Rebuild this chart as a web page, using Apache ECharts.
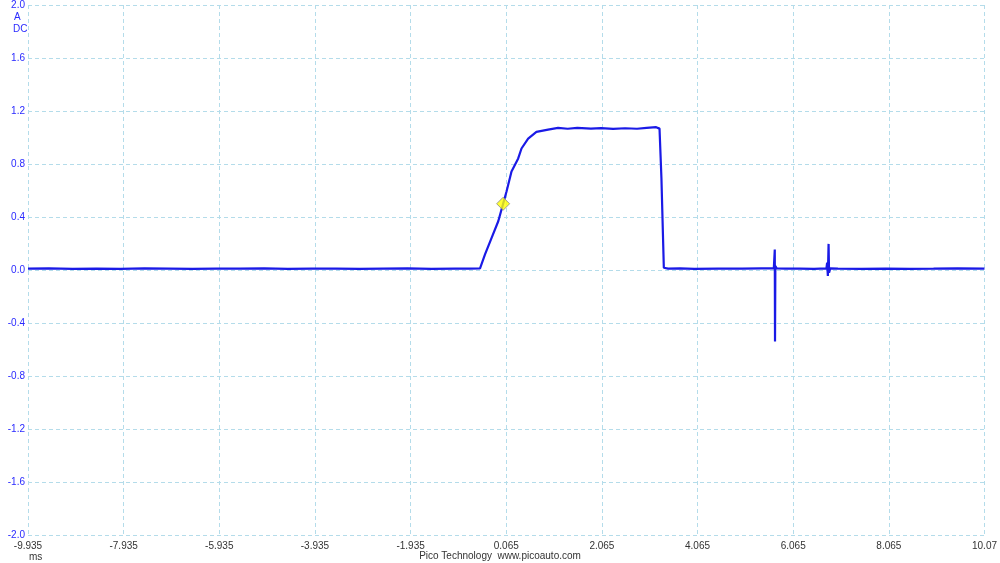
<!DOCTYPE html>
<html>
<head>
<meta charset="utf-8">
<script src="https://cdn.jsdelivr.net/npm/echarts@6/dist/echarts.min.js"></script>
<style>
  html, body { margin: 0; padding: 0; background: #fff; }
  #chart { width: 1000px; height: 563px; }
</style>
</head>
<body>
<div id="chart"></div>
<script>
// time in ms, current in A
const timeMs = [
  -9.935, -9.5, -9.0, -8.5, -8.0, -7.5, -7.0, -6.5, -6.0, -5.5, -5.0, -4.5, -4.0,
  -3.5, -3.0, -2.5, -2.0, -1.5, -1.0, -0.7, -0.483,
  -0.379, -0.241, -0.102, 0.0, 0.071, 0.175, 0.315, 0.384, 0.523, 0.696, 0.94,
  1.148, 1.35, 1.55, 1.836, 2.05, 2.3, 2.55, 2.8, 3.0, 3.2, 3.27,
  3.31, 3.36, 3.45, 3.7, 4.0, 4.5, 5.0, 5.4, 5.66, 5.68, 5.685, 5.692, 5.72,
  5.9, 6.2, 6.5, 6.76, 6.775, 6.79, 6.805, 6.815, 6.84, 7.0, 7.5, 8.0, 8.5,
  9.0, 9.5, 10.065
];
const currentA = [
  0.010, 0.012, 0.008, 0.011, 0.009, 0.012, 0.010, 0.008, 0.011, 0.010, 0.012, 0.009, 0.010,
  0.011, 0.008, 0.010, 0.012, 0.009, 0.011, 0.010, 0.013,
  0.118, 0.242, 0.368, 0.5, 0.593, 0.743, 0.842, 0.917, 0.992, 1.043, 1.06,
  1.073, 1.066, 1.072, 1.067, 1.071, 1.065, 1.070, 1.066, 1.072, 1.078, 1.067,
  0.692, 0.017, 0.010, 0.012, 0.009, 0.011, 0.010, 0.012, 0.012, 0.155, -0.54, 0.030, 0.012,
  0.010, 0.011, 0.009, 0.012, 0.055, -0.045, 0.197, -0.02, 0.012, 0.010, 0.008, 0.011, 0.009,
  0.010, 0.012, 0.010
];
const triggerTime = [0.0];
const triggerLevel = [0.5];

// the axis runs 0..20 internally so that ticks land on the -9.935 + 2k grid
const xOffset = 9.935;

const traceData = timeMs.map((t, i) => [t + xOffset, currentA[i]]);
const trigData = triggerTime.map((t, i) => [t + xOffset, triggerLevel[i]]);

const chart = echarts.init(document.getElementById('chart'));
const gridColor = '#b4dcea';
const font = 'Liberation Sans';

chart.setOption({
  animation: false,
  textStyle: { fontFamily: font },
  grid: { left: 28, right: 12, top: 3, bottom: 28, containLabel: false },
  xAxis: {
    type: 'value',
    min: 0,
    max: 20,
    interval: 2,
    axisLine: { show: false },
    axisTick: { show: false },
    splitLine: { show: true, lineStyle: { color: gridColor, type: [4, 3], width: 1 } },
    axisLabel: {
      color: '#333',
      fontSize: 10,
      margin: 6,
      formatter: (v) => {
        if (Math.abs(v - 20) < 1e-6) return '10.07';
        return (v - xOffset).toFixed(3);
      }
    }
  },
  yAxis: {
    type: 'value',
    min: -2,
    max: 2,
    interval: 0.4,
    axisLine: { show: false },
    axisTick: { show: false },
    splitLine: { show: true, lineStyle: { color: gridColor, type: [4, 3], width: 1 } },
    axisLabel: {
      color: '#2a2aff',
      fontSize: 10,
      margin: 3,
      formatter: (v) => v.toFixed(1)
    }
  },
  graphic: [
    { type: 'text', left: 14, top: 12, style: { text: 'A', fill: '#2a2aff', font: '10px ' + font } },
    { type: 'text', left: 13, top: 24, style: { text: 'DC', fill: '#2a2aff', font: '10px ' + font } },
    { type: 'text', left: 29, top: 552, style: { text: 'ms', fill: '#333', font: '10px ' + font } },
    { type: 'text', left: 'center', top: 551, style: { text: 'Pico Technology  www.picoauto.com', fill: '#333', font: '10px ' + font } }
  ],
  series: [
    {
      name: 'Channel A',
      type: 'line',
      data: traceData,
      showSymbol: false,
      symbol: 'none',
      lineStyle: { color: '#1a1ae6', width: 2.2 },
      z: 3
    },
    {
      name: 'Trigger',
      type: 'scatter',
      data: trigData,
      symbol: 'diamond',
      symbolSize: 13,
      itemStyle: { color: '#ffff00', borderColor: '#888', borderWidth: 1 },
      z: 5
    }
  ]
});
</script>
</body>
</html>
